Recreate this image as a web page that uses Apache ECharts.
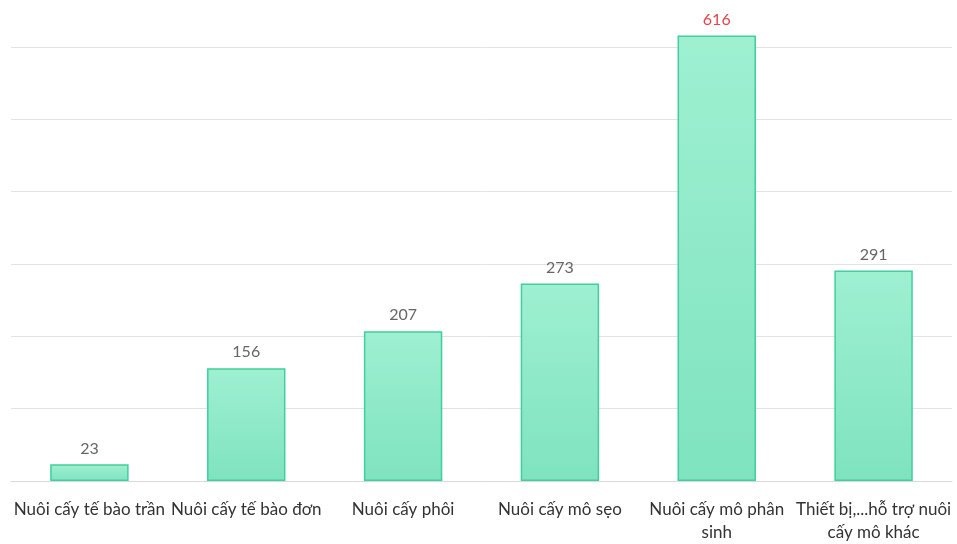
<!DOCTYPE html>
<html><head><meta charset="utf-8">
<script src="https://cdn.jsdelivr.net/npm/echarts@6/dist/echarts.min.js"></script>
<style>html,body{margin:0;padding:0;background:#fff}#c{width:957px;height:544px}</style>
</head><body><div id="c"></div>
<script>
var categories = ['Nuôi cấy tế bào trần', 'Nuôi cấy tế bào đơn', 'Nuôi cấy phôi', 'Nuôi cấy mô sẹo', 'Nuôi cấy mô phân\nsinh', 'Thiết bị,...hỗ trợ nuôi\ncấy mô khác'];
var values = [23, 156, 207, 273, 616, 291];
var maxVal = Math.max.apply(null, values);
var chart = echarts.init(document.getElementById('c'));
chart.setOption({
  animation: false,
  grid: {left: 11, right: 5, top: 47, bottom: 59, containLabel: false},
  xAxis: {
    type: 'category', data: categories,
    axisLine: {lineStyle: {color: '#d9d9d9'}},
    axisTick: {show: false},
    axisLabel: {interval: 0, color: '#333', fontFamily: 'Lato', fontSize: 17, margin: 17, lineHeight: 23}
  },
  yAxis: {
    type: 'value', min: 0, max: 600, interval: 100,
    axisLabel: {show: false}, axisLine: {show: false}, axisTick: {show: false},
    splitLine: {lineStyle: {color: '#e3e3e3'}}
  },
  series: [{
    type: 'bar', barWidth: '50%', clip: false,
    data: values.map(function(v){
      return {value: v, label: {color: v === maxVal ? '#e0464b' : '#666'}};
    }),
    itemStyle: {
      color: new echarts.graphic.LinearGradient(0,0,0,1,[{offset:0,color:'#9ef0d1'},{offset:1,color:'#7fe3bf'}]),
      borderColor: '#3fd09b', borderWidth: 1.5
    },
    label: {show: true, position: 'top', distance: 8, fontFamily: 'Lato', fontSize: 16}
  }]
});
</script></body></html>
